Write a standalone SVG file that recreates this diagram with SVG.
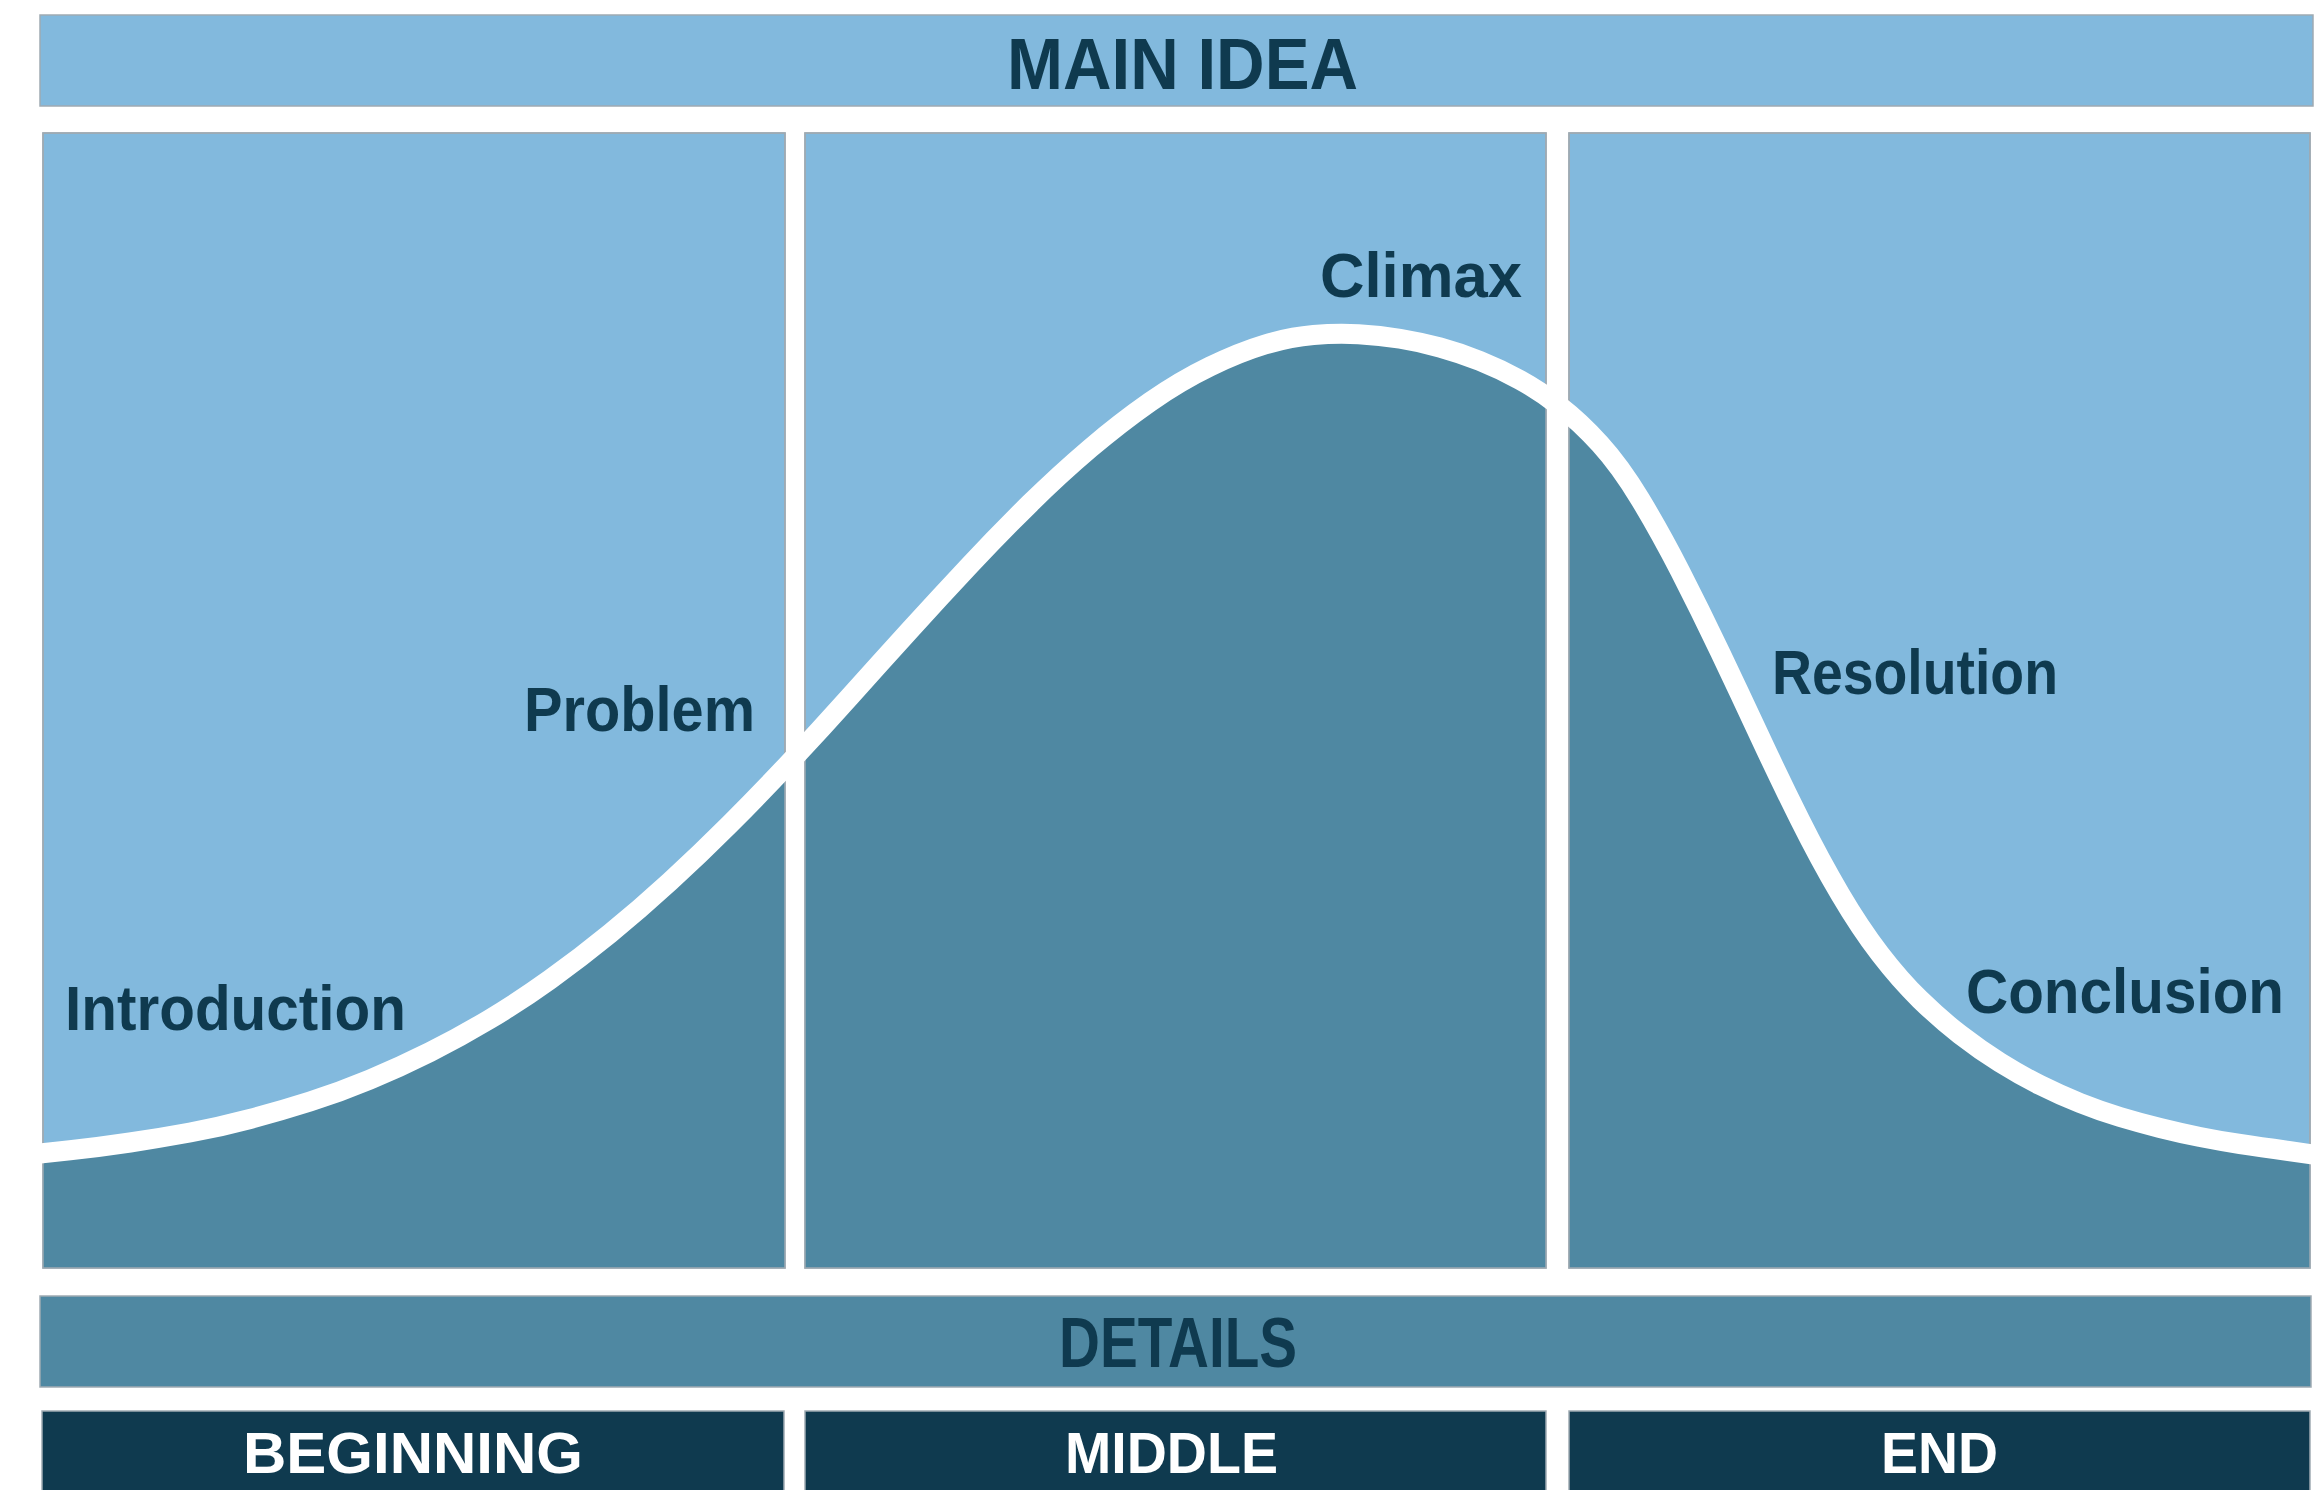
<svg xmlns="http://www.w3.org/2000/svg" width="2317" height="1490" viewBox="0 0 2317 1490">
<style>
.light{fill:#82B9DD;stroke:#9FAAB2;stroke-width:1.5}
.mid{fill:#4F88A2;stroke:#9FAAB2;stroke-width:1.5}
.dark{fill:#0F3A4F;stroke:#9FAAB2;stroke-width:1.5}
.edge{fill:none;stroke:#9FAAB2;stroke-width:1.5}
.hd{font-family:"Liberation Sans",Arial,sans-serif;font-weight:bold}
.lbl{font-family:"Liberation Sans",Arial,sans-serif;font-weight:bold;fill:#0F3A4F;font-size:63px}
.ink{fill:#0F3A4F}
.wht{fill:#FFFFFF}
</style>
<defs>
<clipPath id="panelClip">
<rect x="43" y="133" width="742" height="1135"/>
<rect x="805" y="133" width="741" height="1135"/>
<rect x="1569" y="133" width="741" height="1135"/>
</clipPath>
<path id="curvePath" d="M40,1153.5 L70,1150.25 Q100,1147 130,1142.5 Q160,1138 190,1132.5 Q220,1127 250,1119 Q280,1111 310,1101.5 Q340,1092 370,1079.5 Q400,1067 430,1052 Q460,1037 490,1019 Q520,1001 550,979.5 Q580,958 610,933.5 Q640,909 670,881.5 Q700,854 730,824 Q760,794 790,762 Q820,730 850,696.5 Q880,663 910,630 Q940,597 970,565 Q1000,533 1030,503.5 Q1060,474 1090,448.5 Q1120,423 1150,402 Q1180,381 1210,366.5 Q1240,352 1265,344.5 Q1290,337 1313.5,335 Q1337,333 1358.5,334.25 Q1380,335.5 1400,338.75 Q1420,342 1440,347.5 Q1460,353 1480,361 Q1500,369 1520,380 Q1540,391 1560,406.5 Q1580,422 1600,444 Q1620,466 1640,499 Q1660,532 1680,571 Q1700,610 1720,652 Q1740,694 1760,737 Q1780,780 1800,820 Q1820,860 1840,894 Q1860,928 1880,954 Q1900,980 1920,999.5 Q1940,1019 1960,1034.5 Q1980,1050 2000,1062.5 Q2020,1075 2040,1085 Q2060,1095 2080,1103 Q2100,1111 2120,1117 Q2140,1123 2160,1128 Q2180,1133 2200,1137 Q2220,1141 2240,1144 Q2260,1147 2288.5,1151 L2317,1155"/>
</defs>
<rect x="0" y="0" width="2317" height="1490" fill="#FFFFFF"/>

<g id="main-idea">
<rect class="light" x="40" y="15" width="2273" height="91"/>
<text class="hd ink" x="1007" y="89" font-size="72" textLength="351" lengthAdjust="spacingAndGlyphs">MAIN IDEA</text>
</g>

<g id="panels">
<g id="panel-beginning"><rect class="light" x="43" y="133" width="742" height="1135"/></g>
<g id="panel-middle"><rect class="light" x="805" y="133" width="741" height="1135"/></g>
<g id="panel-end"><rect class="light" x="1569" y="133" width="741" height="1135"/></g>
</g>

<g id="area-under-curve" clip-path="url(#panelClip)">
<path fill="#4F88A2" d="M40,1153.5 L70,1150.25 Q100,1147 130,1142.5 Q160,1138 190,1132.5 Q220,1127 250,1119 Q280,1111 310,1101.5 Q340,1092 370,1079.5 Q400,1067 430,1052 Q460,1037 490,1019 Q520,1001 550,979.5 Q580,958 610,933.5 Q640,909 670,881.5 Q700,854 730,824 Q760,794 790,762 Q820,730 850,696.5 Q880,663 910,630 Q940,597 970,565 Q1000,533 1030,503.5 Q1060,474 1090,448.5 Q1120,423 1150,402 Q1180,381 1210,366.5 Q1240,352 1265,344.5 Q1290,337 1313.5,335 Q1337,333 1358.5,334.25 Q1380,335.5 1400,338.75 Q1420,342 1440,347.5 Q1460,353 1480,361 Q1500,369 1520,380 Q1540,391 1560,406.5 Q1580,422 1600,444 Q1620,466 1640,499 Q1660,532 1680,571 Q1700,610 1720,652 Q1740,694 1760,737 Q1780,780 1800,820 Q1820,860 1840,894 Q1860,928 1880,954 Q1900,980 1920,999.5 Q1940,1019 1960,1034.5 Q1980,1050 2000,1062.5 Q2020,1075 2040,1085 Q2060,1095 2080,1103 Q2100,1111 2120,1117 Q2140,1123 2160,1128 Q2180,1133 2200,1137 Q2220,1141 2240,1144 Q2260,1147 2288.5,1151 L2317,1155 L2317,1290 L40,1290 Z"/>
</g>

<g id="panel-edges">
<rect class="edge" x="43" y="133" width="742" height="1135"/>
<rect class="edge" x="805" y="133" width="741" height="1135"/>
<rect class="edge" x="1569" y="133" width="741" height="1135"/>
</g>

<g id="connectors">
<use href="#curvePath" fill="none" stroke="#FFFFFF" stroke-width="20" stroke-linecap="butt" stroke-linejoin="round"/>
</g>

<g id="labels">
<g id="label-introduction"><text class="lbl" x="65" y="1030" textLength="341" lengthAdjust="spacingAndGlyphs">Introduction</text></g>
<g id="label-problem"><text class="lbl" x="524" y="731" textLength="231" lengthAdjust="spacingAndGlyphs">Problem</text></g>
<g id="label-climax"><text class="lbl" x="1320" y="297" textLength="202" lengthAdjust="spacingAndGlyphs">Climax</text></g>
<g id="label-resolution"><text class="lbl" x="1772" y="694" textLength="286" lengthAdjust="spacingAndGlyphs">Resolution</text></g>
<g id="label-conclusion"><text class="lbl" x="1966" y="1013" textLength="318" lengthAdjust="spacingAndGlyphs">Conclusion</text></g>
</g>

<g id="details">
<rect class="mid" x="40" y="1296" width="2271" height="91"/>
<text class="hd ink" x="1059" y="1367" font-size="71" textLength="238" lengthAdjust="spacingAndGlyphs">DETAILS</text>
</g>

<g id="beginning">
<rect class="dark" x="42" y="1411" width="742" height="90"/>
<text class="hd wht" x="243" y="1473" font-size="58" textLength="340" lengthAdjust="spacingAndGlyphs">BEGINNING</text>
</g>
<g id="middle">
<rect class="dark" x="805" y="1411" width="741" height="90"/>
<text class="hd wht" x="1065" y="1473" font-size="58" textLength="213" lengthAdjust="spacingAndGlyphs">MIDDLE</text>
</g>
<g id="end">
<rect class="dark" x="1569" y="1411" width="741" height="90"/>
<text class="hd wht" x="1881" y="1473" font-size="58" textLength="117" lengthAdjust="spacingAndGlyphs">END</text>
</g>
</svg>
